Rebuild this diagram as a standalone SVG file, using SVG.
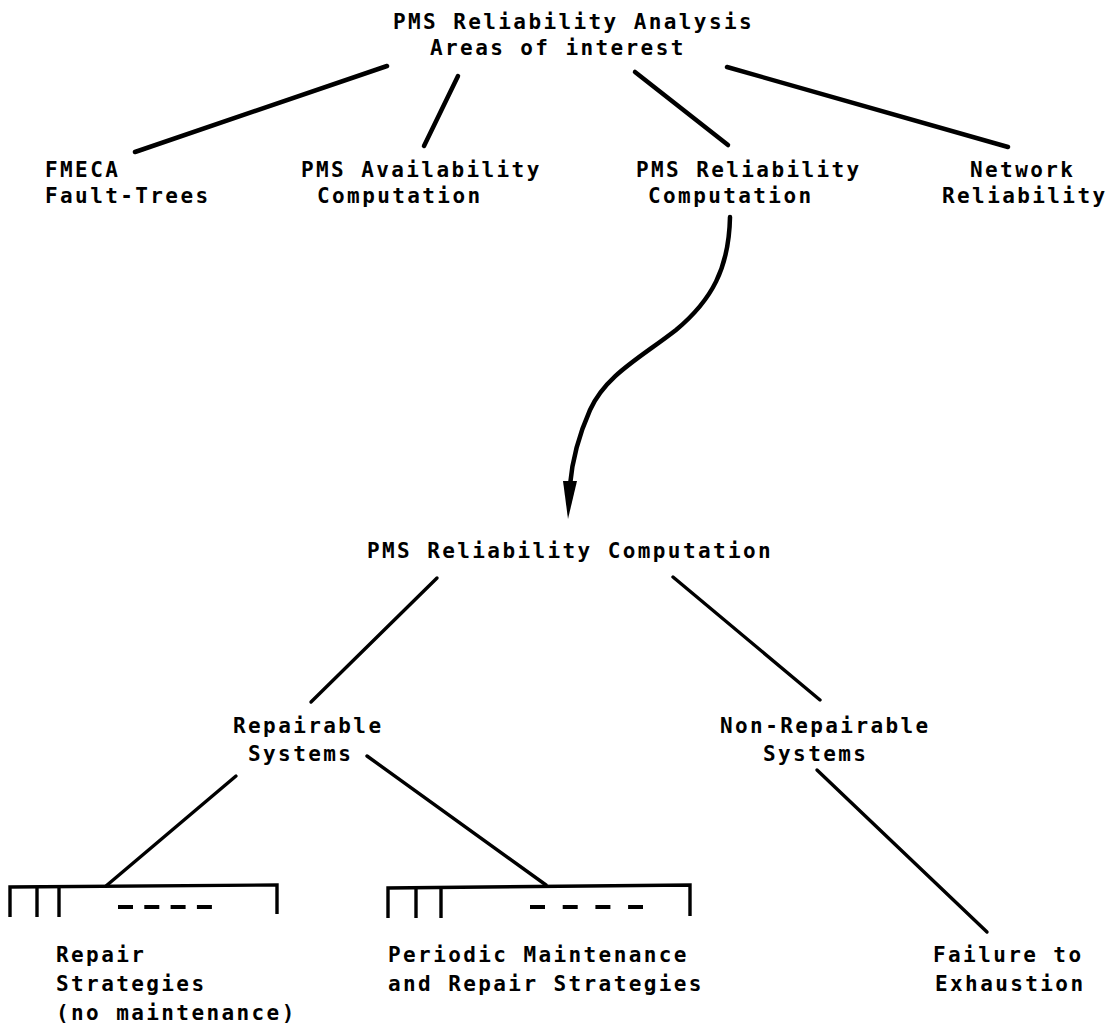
<svg xmlns="http://www.w3.org/2000/svg" width="1111" height="1035" viewBox="0 0 1111 1035">
<style>
text{font-family:"DejaVu Sans Mono","Liberation Mono",monospace;font-weight:bold;font-size:21px;letter-spacing:2.4px;fill:#000}
.ln{stroke:#000;stroke-width:4.5;stroke-linecap:round;fill:none}
.lt{stroke:#000;stroke-width:3.4;stroke-linecap:round;fill:none}
.br{stroke:#000;stroke-width:3.4;stroke-linecap:butt;stroke-linejoin:miter;fill:none}
.ds{stroke:#000;stroke-width:4;fill:none}
</style>
<rect width="1111" height="1035" fill="#fff"/>
<g id="connectors">
<line class="ln" x1="387" y1="66" x2="135" y2="152"/>
<line class="ln" x1="458" y1="76" x2="424" y2="146"/>
<line class="ln" x1="635" y1="72" x2="728" y2="145"/>
<line class="ln" x1="727" y1="67" x2="1008" y2="147"/>
<path class="ln" d="M730,217 C729,268 712,300 676,330 C640,358 606,375 590,410 C578,437 572,462 570,485"/>
<polygon points="563,481 577,481 568,519" fill="#000"/>
<line class="lt" x1="437" y1="578" x2="311" y2="702"/>
<line class="lt" x1="673" y1="577" x2="820" y2="700"/>
<line class="lt" x1="236" y1="776" x2="106" y2="886"/>
<line class="lt" x1="367" y1="756" x2="546" y2="885"/>
<line class="lt" x1="817" y1="770" x2="987" y2="932"/>
</g>
<g id="root">
<text x="393" y="29">PMS Reliability Analysis</text>
<text x="430" y="55">Areas of interest</text>
</g>
<g id="fmeca">
<text x="45" y="177">FMECA</text>
<text x="45" y="203">Fault-Trees</text>
</g>
<g id="availability">
<text x="301" y="177">PMS Availability</text>
<text x="317" y="203">Computation</text>
</g>
<g id="reliability">
<text x="636" y="177">PMS Reliability</text>
<text x="648" y="203">Computation</text>
</g>
<g id="network">
<text x="970" y="177">Network</text>
<text x="942" y="203">Reliability</text>
</g>
<g id="relcomp">
<text x="367" y="558">PMS Reliability Computation</text>
</g>
<g id="repairable">
<text x="233" y="733">Repairable</text>
<text x="248" y="761">Systems</text>
</g>
<g id="nonrepairable">
<text x="720" y="733">Non-Repairable</text>
<text x="763" y="761">Systems</text>
</g>
<g id="repair-strategies">
<path class="br" d="M10,917 L10,887 L277,885 L277,914"/>
<line class="br" x1="37" y1="886" x2="37" y2="917"/>
<line class="br" x1="59" y1="886" x2="59" y2="917"/>
<line class="ds" x1="118" y1="907" x2="212" y2="907" stroke-dasharray="15 11.3"/>
<text x="56" y="962">Repair</text>
<text x="56" y="991">Strategies</text>
<text x="56" y="1020">(no maintenance)</text>
</g>
<g id="periodic">
<path class="br" d="M388,918 L388,888 L690,885 L690,916"/>
<line class="br" x1="416" y1="887" x2="416" y2="918"/>
<line class="br" x1="441" y1="887" x2="441" y2="918"/>
<line class="ds" x1="530" y1="907" x2="643" y2="907" stroke-dasharray="15 17.7"/>
<text x="388" y="962">Periodic Maintenance</text>
<text x="388" y="991">and Repair Strategies</text>
</g>
<g id="exhaustion">
<text x="933" y="962">Failure to</text>
<text x="935" y="991">Exhaustion</text>
</g>
</svg>
